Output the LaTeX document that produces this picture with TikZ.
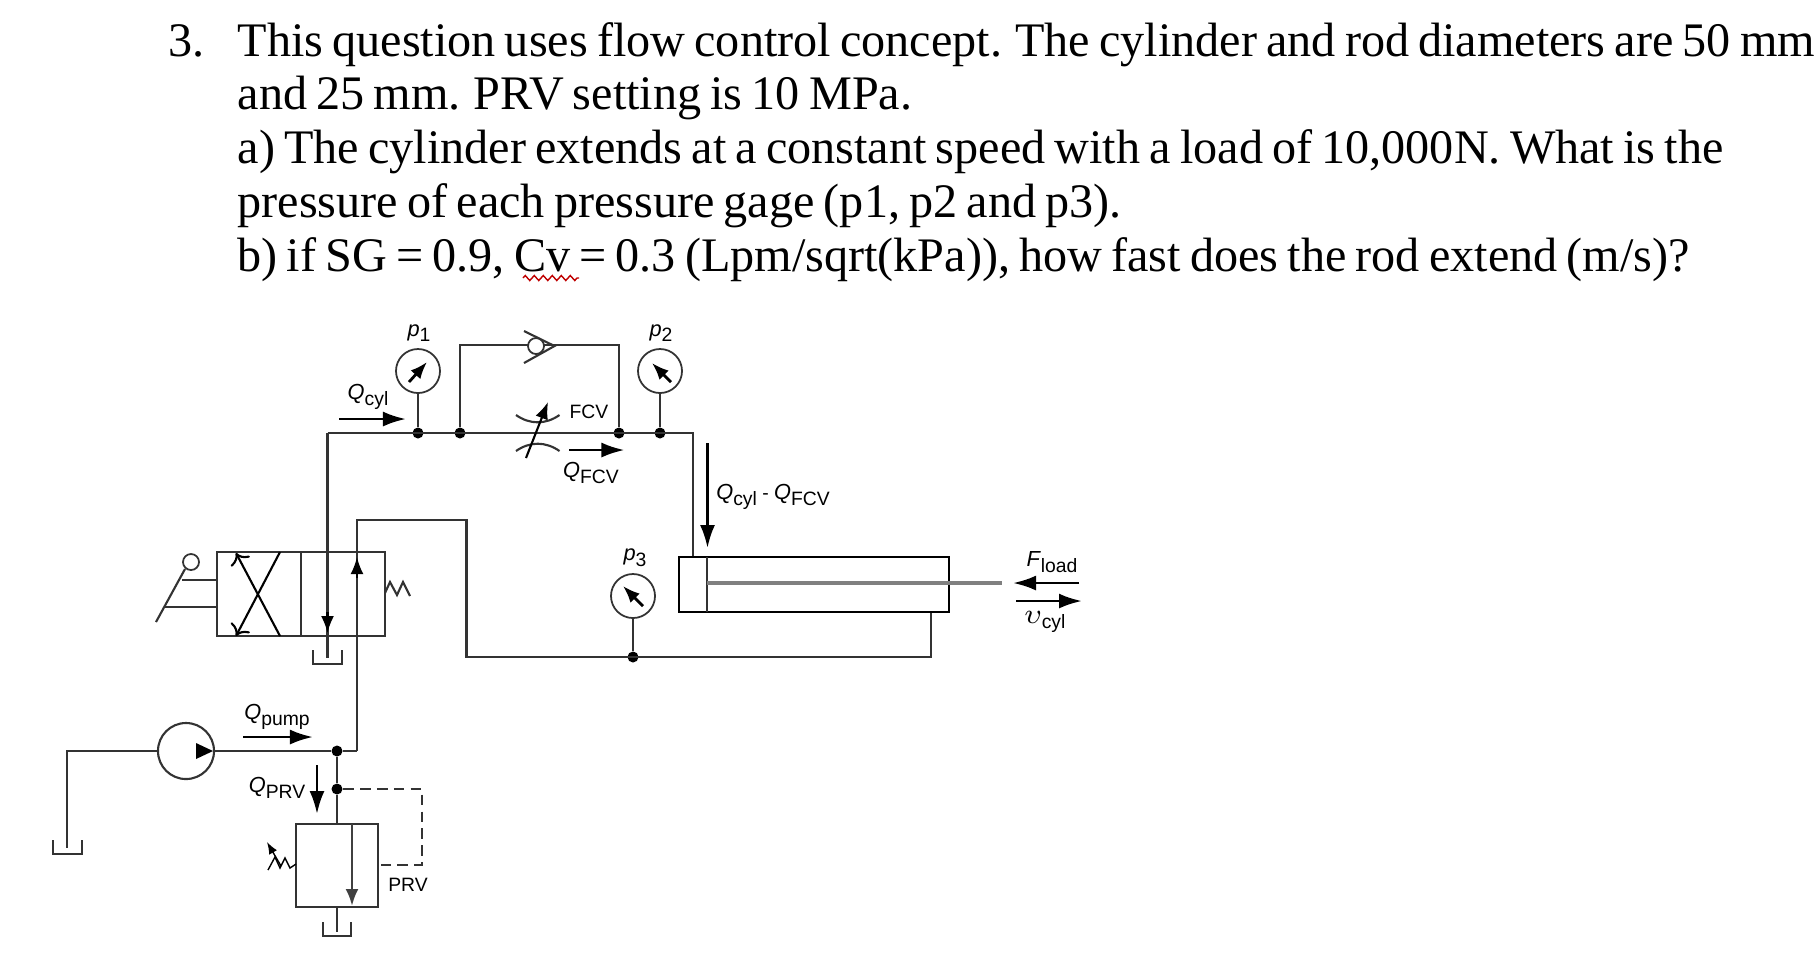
\documentclass[tikz,border=0pt]{standalone}
\usepackage{fontspec}
\setmainfont{Liberation Serif}[WordSpace=0.76]
\newfontfamily\labelfont{Liberation Sans}
\usetikzlibrary{arrows.meta,decorations.pathmorphing}
\newcommand{\flowlabel}[2]{{\fontsize{6.2pt}{6pt}\selectfont\textit{#1}}\raisebox{-0.55ex}{#2}}
\tikzset{
  pipe/.style={line width=0.6pt,black!80},
  flow/.style={line width=0.8pt,-{Latex[length=2.3mm,width=1.5mm]}},
  tip/.style={line width=0.6pt,-{Latex[length=1.7mm,width=1.3mm]}},
  gauge/.style={circle,draw,black!80,line width=0.5pt,minimum size=4.4mm,inner sep=0pt},
  dot/.style={circle,fill=black,minimum size=1.1mm,inner sep=0pt},
  question/.style={anchor=base west,inner sep=0pt,font=\fontsize{13.7pt}{15pt}\selectfont},
  tag/.style={inner sep=0pt,font=\labelfont\fontsize{5.5pt}{6pt}\selectfont}
}
\begin{document}
\begin{tikzpicture}[x=0.01cm,y=-0.01cm]
  \useasboundingbox (0,0) rectangle (1815,956);

  % question text
  \node[question] (num) at (168,56) {3.};
  \node[question] (l1) at (237,56) {This question uses flow control concept. The cylinder and rod diameters are 50 mm};
  \node[question] (l2) at (237,109) {and 25 mm. PRV setting is 10 MPa.};
  \node[question] (l3) at (237,163) {a) The cylinder extends at a constant speed with a load of 10,000N. What is the};
  \node[question] (l4) at (237,217) {pressure of each pressure gage (p1, p2 and p3).};
  \node[question] (l5) at (237,271) {b) if SG = 0.9, Cv = 0.3 (Lpm/sqrt(kPa)), how fast does the rod extend (m/s)?};
  \coordinate (wl) at (523,278);
  \coordinate (wr) at (579,278);
  \draw[red!75!black,line width=0.4pt,decorate,decoration={zigzag,segment length=0.9mm,amplitude=0.25mm}] (wl) -- (wr);

  % gauges and junctions
  \node[gauge] (g1) at (418,371) {};
  \node[gauge] (g2) at (660,371) {};
  \node[gauge] (g3) at (633,596) {};
  \node[dot] (j1) at (418,433) {};
  \node[dot] (j2) at (460,433) {};
  \node[dot] (j3) at (619,433) {};
  \node[dot] (j4) at (660,433) {};
  \node[dot] (j5) at (633,657) {};
  \node[dot] (j6) at (337,751) {};
  \node[dot] (j7) at (337,789) {};

  % pipe corners
  \coordinate (c1) at (327.5,433);
  \coordinate (c2) at (693,433);
  \coordinate (c3) at (693,557);
  \coordinate (c4) at (460,345);
  \coordinate (c5) at (619,345);
  \coordinate (c6) at (357,520);
  \coordinate (c7) at (466.5,520);
  \coordinate (c8) at (466.5,657);
  \coordinate (c9) at (931,657);
  \coordinate (c10) at (931,612);
  \coordinate (c11) at (357,751);
  \coordinate (c12) at (67,751);
  \coordinate (c13) at (67,848);
  \coordinate (c14) at (327.5,658);
  \coordinate (c15) at (337,824);
  \coordinate (c16) at (337,907);
  \coordinate (c17) at (337,932);

  \draw[pipe] (c1) -- (c2) -- (c3);
  \draw[pipe] (j2) -- (c4) -- (c5) -- (j3);
  \draw[pipe] (g1) -- (j1);
  \draw[pipe] (g2) -- (j4);
  \draw[pipe] (g3) -- (j5);
  \draw[pipe] (c1) -- (c14);
  \draw[pipe] (c11) -- (c6) -- (c7) -- (c8) -- (c9) -- (c10);
  \draw[pipe] (j6) -- (j7) -- (c15);
  \draw[pipe] (c16) -- (c17);

  % gauge needles
  \coordinate (n1a) at (409,382);
  \coordinate (n1b) at (427,362);
  \coordinate (n2a) at (671,382);
  \coordinate (n2b) at (652,363);
  \coordinate (n3a) at (643,606);
  \coordinate (n3b) at (623,586);
  \draw[tip,line width=0.8pt] (n1a) -- (n1b);
  \draw[tip,line width=0.8pt] (n2a) -- (n2b);
  \draw[tip,line width=0.8pt] (n3a) -- (n3b);

  % check valve
  \node[circle,draw,black!80,fill=white,line width=0.5pt,minimum size=1.6mm,inner sep=0pt] (ball) at (536,346) {};
  \coordinate (s1) at (524,331);
  \coordinate (s2) at (554.5,346);
  \coordinate (s3) at (524,363);
  \draw[pipe] (s1) -- (s2) -- (s3);

  % flow control valve
  \coordinate (f1) at (516,415);
  \coordinate (f2) at (559.5,415);
  \coordinate (f3) at (516,451);
  \coordinate (f4) at (559.5,451);
  \coordinate (f5) at (526,458);
  \coordinate (f6) at (548,402);
  \draw[pipe] (f1) to[bend right=35] (f2);
  \draw[pipe] (f3) to[bend left=35] (f4);
  \draw[tip] (f5) -- (f6);
  \node[tag] (fcv) at (589,412) {FCV};

  % directional valve
  \node[draw,black!80,line width=0.7pt,minimum width=16.8mm,minimum height=8.4mm,inner sep=0pt] (valve) at (301,594) {};
  \coordinate (d1) at (301,552);
  \coordinate (d2) at (301,636);
  \coordinate (x1) at (236,553);
  \coordinate (x2) at (280,636);
  \coordinate (x3) at (280,552);
  \coordinate (x4) at (236,636);
  \draw[pipe] (d1) -- (d2);
  \draw[tip,<-] (x1) -- (x2);
  \draw[tip,<-] (x4) -- (x3);
  \coordinate (a1) at (327.5,612);
  \coordinate (a2) at (327.5,633);
  \coordinate (a3) at (357,578);
  \coordinate (a4) at (357,557);
  \draw[tip] (a1) -- (a2);
  \draw[tip] (a3) -- (a4);

  % lever and spring
  \node[circle,draw,black!80,line width=0.5pt,minimum size=1.6mm,inner sep=0pt] (knob) at (191,562) {};
  \coordinate (h1) at (156,622);
  \coordinate (h2) at (185,569);
  \coordinate (h3) at (182,580);
  \coordinate (h4) at (217,580);
  \coordinate (h5) at (165,607);
  \coordinate (h6) at (217,607);
  \draw[pipe] (h1) -- (h2);
  \draw[pipe] (h3) -- (h4);
  \draw[pipe] (h5) -- (h6);
  \coordinate (k1) at (385,593);
  \coordinate (k2) at (390,582);
  \coordinate (k3) at (397,595);
  \coordinate (k4) at (403,582);
  \coordinate (k5) at (410,596);
  \draw[pipe] (k1) -- (k2) -- (k3) -- (k4) -- (k5);

  % tanks
  \coordinate (t1a) at (313,650);
  \coordinate (t1b) at (313,664);
  \coordinate (t1c) at (342,664);
  \coordinate (t1d) at (342,650);
  \coordinate (t2a) at (53,840);
  \coordinate (t2b) at (53,854);
  \coordinate (t2c) at (82,854);
  \coordinate (t2d) at (82,840);
  \coordinate (t3a) at (323,922);
  \coordinate (t3b) at (323,936);
  \coordinate (t3c) at (351,936);
  \coordinate (t3d) at (351,922);
  \draw[pipe] (t1a) -- (t1b) -- (t1c) -- (t1d);
  \draw[pipe] (t2a) -- (t2b) -- (t2c) -- (t2d);
  \draw[pipe] (t3a) -- (t3b) -- (t3c) -- (t3d);

  % pump
  \node[circle,draw,black!80,line width=0.6pt,minimum size=5.6mm,inner sep=0pt] (pump) at (186,751) {};
  \coordinate (p1) at (196,743);
  \coordinate (p2) at (213,751);
  \coordinate (p3) at (196,759);
  \fill (p1) -- (p2) -- (p3) -- cycle;
  \draw[pipe] (pump) -- (c12) -- (c13);
  \draw[pipe] (pump) -- (j6) -- (c11);

  % relief valve
  \node[draw,black!80,line width=0.7pt,minimum width=8.2mm,minimum height=8.3mm,inner sep=0pt] (prv) at (337,865.5) {};
  \coordinate (r1) at (352,824);
  \coordinate (r2) at (352,906);
  \coordinate (r3) at (422,789);
  \coordinate (r4) at (422,865);
  \coordinate (r5) at (378,865);
  \draw[tip,black!75,line width=0.8pt] (r1) -- (r2);
  \draw[pipe,dash pattern=on 3pt off 1.8pt] (j7) -- (r3) -- (r4) -- (r5);
  \coordinate (z1) at (268,870);
  \coordinate (z2) at (275,857);
  \coordinate (z3) at (280,868);
  \coordinate (z4) at (285,858);
  \coordinate (z5) at (290,868);
  \coordinate (z6) at (296,864);
  \coordinate (z7) at (281,866);
  \coordinate (z8) at (267,842);
  \draw[line width=0.4pt] (z1) -- (z2) -- (z3) -- (z4) -- (z5) -- (z6);
  \draw[line width=0.4pt,-{Latex[length=1.2mm,width=0.9mm]}] (z7) -- (z8);

  % cylinder
  \node[draw,line width=0.7pt,minimum width=27mm,minimum height=5.5mm,inner sep=0pt] (cyl) at (814,584.5) {};
  \coordinate (y1) at (707,557);
  \coordinate (y2) at (707,612);
  \coordinate (y3) at (707,583);
  \coordinate (y4) at (1002,583);
  \draw[pipe] (y1) -- (y2);
  \draw[black!50,line width=1pt] (y3) -- (y4);

  % flow arrows
  \coordinate (q1a) at (339,419);
  \coordinate (q1b) at (406,419);
  \coordinate (q2a) at (569,450);
  \coordinate (q2b) at (624.5,450);
  \coordinate (q3a) at (707.5,443);
  \coordinate (q3b) at (707.5,548);
  \coordinate (q4a) at (243,737);
  \coordinate (q4b) at (313,737);
  \coordinate (q5a) at (317,765);
  \coordinate (q5b) at (317,814);
  \coordinate (q6a) at (1079,583);
  \coordinate (q6b) at (1013,583);
  \coordinate (q7a) at (1016,601);
  \coordinate (q7b) at (1082,601);
  \draw[flow] (q1a) -- (q1b);
  \draw[flow] (q2a) -- (q2b);
  \draw[flow] (q3a) -- (q3b);
  \draw[flow] (q4a) -- (q4b);
  \draw[flow] (q5a) -- (q5b);
  \draw[flow] (q6a) -- (q6b);
  \draw[flow] (q7a) -- (q7b);

  % labels
  \node[tag] (lp1) at (419,333) {\flowlabel{p}{1}};
  \node[tag] (lp2) at (661,333) {\flowlabel{p}{2}};
  \node[tag] (lp3) at (635,558) {\flowlabel{p}{3}};
  \node[tag] (lq1) at (368,397) {\flowlabel{Q}{cyl}};
  \node[tag] (lq2) at (591,473) {\flowlabel{Q}{FCV}};
  \node[tag] (lq3) at (773,497) {\flowlabel{Q}{cyl} - \flowlabel{Q}{FCV}};
  \node[tag] (lq4) at (277,717) {\flowlabel{Q}{pump}};
  \node[tag] (lq5) at (277,788) {\flowlabel{Q}{PRV}};
  \node[tag] (lprv) at (408,885) {PRV};
  \node[tag] (lf) at (1052,562) {\flowlabel{F}{load}};
  \node[tag] (lv) at (1045,622) {{\fontsize{8pt}{8pt}\selectfont$\upsilon$}\raisebox{-0.45ex}{cyl}};
\end{tikzpicture}
\end{document}
